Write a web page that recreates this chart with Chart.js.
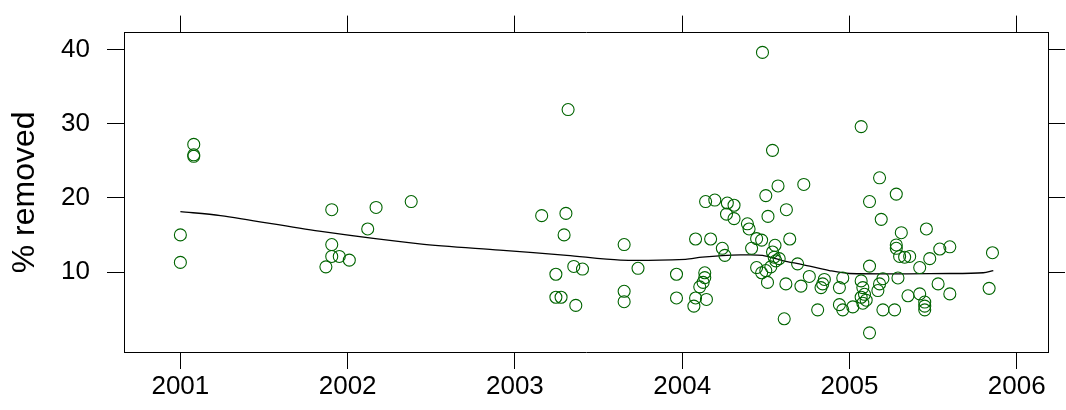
<!DOCTYPE html>
<html>
<head>
<meta charset="utf-8">
<script src="https://cdn.jsdelivr.net/npm/chart.js@4.4.0/dist/chart.umd.min.js"></script>
<style>
  body { margin: 0; background: #fff; }
  #wrap { width: 1066px; height: 410px; }
</style>
</head>
<body>
<div id="wrap"><canvas id="removedChart" width="1066" height="410"></canvas></div>
<script>
// Observations: date (decimal year) and % removed
const obsYears = [
  2001.00, 2001.00, 2001.08, 2001.08, 2001.08,
  2001.87, 2001.905, 2001.905, 2001.905, 2001.95, 2002.01, 2002.12, 2002.17, 2002.38,
  2003.16, 2003.245, 2003.245, 2003.276, 2003.294, 2003.305, 2003.318, 2003.352, 2003.364, 2003.404,
  2003.653, 2003.653, 2003.653, 2003.736,
  2003.966, 2003.966, 2004.07, 2004.08, 2004.08, 2004.105, 2004.125, 2004.135, 2004.135, 2004.14,
  2004.145, 2004.17, 2004.195, 2004.24, 2004.255, 2004.265, 2004.27, 2004.31, 2004.31,
  2004.39, 2004.40, 2004.415, 2004.445, 2004.445, 2004.475, 2004.475, 2004.48, 2004.50, 2004.51,
  2004.513, 2004.54, 2004.555, 2004.54, 2004.55, 2004.56, 2004.58, 2004.53, 2004.50, 2004.573,
  2004.61, 2004.62, 2004.623, 2004.643, 2004.69, 2004.71, 2004.727, 2004.76, 2004.81, 2004.84,
  2004.85, 2004.83, 2004.94, 2004.96, 2004.94, 2004.96, 2005.02,
  2005.07, 2005.07, 2005.08, 2005.09, 2005.07, 2005.10, 2005.08, 2005.12, 2005.12, 2005.12,
  2005.17, 2005.18, 2005.19, 2005.18, 2005.20, 2005.20, 2005.27, 2005.28, 2005.28, 2005.28,
  2005.29, 2005.30, 2005.31, 2005.33, 2005.36, 2005.35, 2005.42, 2005.42, 2005.45, 2005.45,
  2005.45, 2005.46, 2005.48, 2005.53, 2005.54, 2005.60, 2005.60, 2005.835, 2005.855
];
const pctRemoved = [
  15.0, 11.3, 27.2, 25.8, 25.6,
  10.7, 12.1, 13.7, 18.4, 12.1, 11.6, 15.8, 18.7, 19.5,
  17.6, 9.7, 6.6, 6.6, 15.0, 17.9, 31.9, 10.75, 5.5, 10.4,
  13.7, 7.4, 6.0, 10.5,
  9.7, 6.5, 5.4, 6.5, 14.45, 8.0, 8.6, 9.25, 9.9, 19.5,
  6.3, 14.45, 19.7, 13.2, 12.25, 17.8, 19.3, 19.0, 17.2,
  16.5, 15.8, 13.2, 14.5, 10.6, 14.3, 9.9, 39.6, 20.3, 8.6,
  17.5, 26.4, 13.6, 12.7, 12.0, 11.5, 11.8, 10.7, 10.2, 21.6,
  3.7, 8.4, 18.4, 14.45, 11.1, 8.1, 21.8, 9.4, 4.9, 8.4,
  9.0, 7.9, 7.9, 9.2, 5.6, 4.9, 5.3,
  29.6, 8.8, 7.9, 7.0, 6.6, 6.2, 5.8, 19.5, 10.8, 1.8,
  7.5, 22.7, 17.1, 8.4, 9.1, 4.9, 4.9, 20.5, 13.65, 13.2,
  9.2, 12.1, 15.3, 12.0, 12.1, 6.8, 10.6, 7.05, 5.95, 5.4,
  4.9, 15.8, 11.8, 8.4, 13.1, 13.4, 7.05, 7.8, 12.6
];

// Smoothed (loess) curve
const smoothYears = [2001.0, 2001.24, 2001.83, 2002.43, 2002.91, 2003.31, 2003.63, 2004.02, 2004.12,
  2004.35, 2004.48, 2004.6, 2004.72, 2004.88, 2005.0, 2005.6, 2005.8, 2005.86];
const smoothPct = [18.15, 17.6, 15.5, 13.8, 12.95, 12.25, 11.6, 11.7, 12.0,
  12.3, 12.25, 11.55, 11.0, 10.2, 9.8, 9.8, 9.9, 10.2];

// Axis ticks and ranges
const yearTicks = [2001, 2002, 2003, 2004, 2005, 2006];
const pctTicks = [10, 20, 30, 40];
const xRange = [2000.663, 2006.187];
const yRange = [-0.78, 42.27];

const fontFamily = '"Liberation Sans", Arial, sans-serif';

const scatterPoints = obsYears.map((yr, i) => ({ x: yr, y: pctRemoved[i] }));
const smoothPoints = smoothYears.map((yr, i) => ({ x: yr, y: smoothPct[i] }));

function setTicks(values) {
    return function(scale) {
        scale.ticks = values.map(v => ({ value: v }));
    };
}

const tickGrid = {
    drawOnChartArea: false,
    drawTicks: true,
    tickLength: 17,
    color: '#000',
    lineWidth: 1
};
const frame = { display: true, color: '#000', width: 1 };

new Chart(document.getElementById('removedChart'), {
    type: 'scatter',
    data: {
        datasets: [
            {
                label: 'removed',
                data: scatterPoints,
                pointStyle: 'circle',
                pointRadius: 6,
                pointBorderWidth: 1.1,
                pointBorderColor: '#006400',
                pointBackgroundColor: 'rgba(0,0,0,0)',
                showLine: false,
                xAxisID: 'x',
                yAxisID: 'y'
            },
            {
                label: 'smooth',
                type: 'line',
                data: smoothPoints,
                borderColor: '#000',
                borderWidth: 1.3,
                pointRadius: 0,
                tension: 0.3,
                fill: false,
                xAxisID: 'x',
                yAxisID: 'y'
            }
        ]
    },
    options: {
        responsive: false,
        animation: false,
        layout: { padding: 0 },
        plugins: {
            legend: { display: false },
            tooltip: { enabled: false }
        },
        scales: {
            x: {
                type: 'linear',
                position: 'bottom',
                min: xRange[0],
                max: xRange[1],
                afterBuildTicks: setTicks(yearTicks),
                afterFit: s => { s.height = 58; },
                ticks: {
                    color: '#000',
                    padding: 2,
                    maxRotation: 0,
                    autoSkip: false,
                    font: { family: fontFamily, size: 26 },
                    callback: v => String(v)
                },
                grid: tickGrid,
                border: frame
            },
            x2: {
                type: 'linear',
                position: 'top',
                min: xRange[0],
                max: xRange[1],
                afterBuildTicks: setTicks(yearTicks),
                afterFit: s => { s.height = 27; },
                ticks: { display: false },
                grid: tickGrid,
                border: frame
            },
            y: {
                type: 'linear',
                position: 'left',
                min: yRange[0],
                max: yRange[1],
                afterBuildTicks: setTicks(pctTicks),
                afterFit: s => { s.width = 124; },
                ticks: {
                    color: '#000',
                    padding: 17,
                    autoSkip: false,
                    font: { family: fontFamily, size: 26 },
                    callback: v => String(v)
                },
                title: {
                    display: true,
                    text: '% removed',
                    color: '#000',
                    padding: { top: 9, bottom: 0 },
                    font: { family: fontFamily, size: 32, lineHeight: 1 }
                },
                grid: tickGrid,
                border: frame
            },
            y2: {
                type: 'linear',
                position: 'right',
                min: yRange[0],
                max: yRange[1],
                afterBuildTicks: setTicks(pctTicks),
                afterFit: s => { s.width = 18; },
                ticks: { display: false },
                grid: tickGrid,
                border: frame
            }
        }
    }
});
</script>
</body>
</html>
